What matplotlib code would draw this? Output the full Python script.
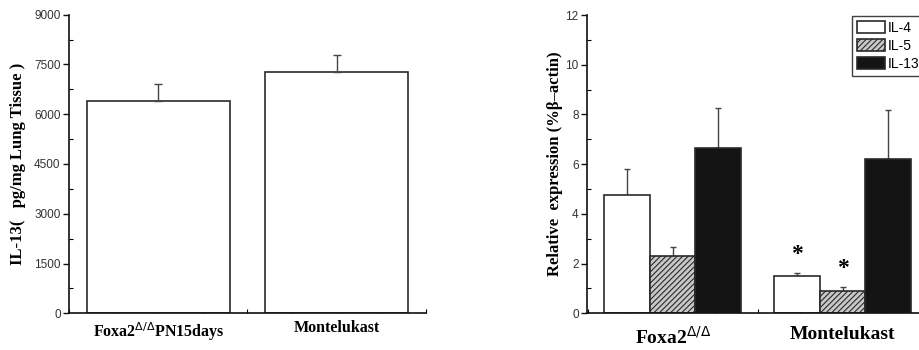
import numpy as np
from matplotlib import pyplot as plt
from matplotlib.ticker import MultipleLocator

# left panel: IL-13 protein
groups_left = ['Foxa2$^{\\Delta/\\Delta}$PN15days', 'Montelukast']
il13_protein = [6400, 7280]
il13_protein_err = [500, 520]

# right panel: relative mRNA expression
groups_right = ['Foxa2$^{\\Delta/\\Delta}$', 'Montelukast']
series_names = ['IL-4', 'IL-5', 'IL-13']
expr_il4 = [4.76, 1.50]
expr_il5 = [2.29, 0.90]
expr_il13 = [6.65, 6.22]
err_il4 = [1.03, 0.13]
err_il5 = [0.39, 0.17]
err_il13 = [1.60, 1.96]
significant = [[False, True], [False, True], [False, False]]

serif = ['Liberation Serif', 'DejaVu Serif']
sans = ['Liberation Sans', 'DejaVu Sans']
edge = '#2a2a2a'

plt.rcParams['font.family'] = sans
plt.rcParams['hatch.color'] = '#3a3a3a'
plt.rcParams['hatch.linewidth'] = 0.8


def style_axis(ax):
    for s in ['top', 'right']:
        ax.spines[s].set_visible(False)
    for s in ['left', 'bottom']:
        ax.spines[s].set_linewidth(1.2)
        ax.spines[s].set_color('#111111')
    ax.tick_params(axis='y', which='major', direction='out', length=4, width=1, labelsize=8.5,
                   colors='#111111', labelcolor='#333333', pad=2)
    ax.tick_params(axis='y', which='minor', direction='in', length=3, width=0.8)
    ax.tick_params(axis='x', which='both', direction='in', length=3, width=0.8)


fig = plt.figure(figsize=(9.2, 3.5), dpi=100)

# ---- left ----
ax1 = fig.add_axes([69 / 920, 36.7 / 350, 357 / 920, 298.6 / 350])
x1 = np.arange(len(groups_left)) + 1
ax1.bar(x1, il13_protein, width=0.8, color='white', edgecolor=edge, linewidth=1.2, zorder=2)
ax1.errorbar(x1, il13_protein, yerr=[np.zeros(len(x1)), il13_protein_err], fmt='none',
             ecolor='#444444', elinewidth=1, capsize=3, capthick=1, zorder=3)
ax1.set_xlim(0.5, 2.5)
ax1.set_ylim(0, 9000)
ax1.yaxis.set_major_locator(MultipleLocator(1500))
ax1.yaxis.set_minor_locator(MultipleLocator(750))
ax1.xaxis.set_minor_locator(MultipleLocator(0.25))
ax1.set_xticks(x1)
ax1.set_xticklabels(groups_left, fontfamily=serif, fontweight='bold', fontsize=11.5)
ax1.tick_params(axis='x', which='major', length=0, pad=5)
ax1.set_ylabel('IL-13(   pg/mg Lung Tissue )', fontfamily=serif, fontweight='bold', fontsize=12,
               labelpad=6)
style_axis(ax1)

# ---- right ----
ax2 = fig.add_axes([587 / 920, 36.7 / 350, 340.7 / 920, 298.3 / 350])
x2 = np.arange(len(groups_right))
w = 0.268
vals = [expr_il4, expr_il5, expr_il13]
errs = [err_il4, err_il5, err_il13]
faces = ['white', '#c8c8c8', '#141414']
hatches = [None, '//////', None]
for i in range(3):
    pos = x2 + (i - 1) * w
    ax2.bar(pos, vals[i], width=w, color=faces[i], edgecolor=edge, linewidth=1.2,
            hatch=hatches[i], label=series_names[i], zorder=2)
    ax2.errorbar(pos, vals[i], yerr=[np.zeros(len(pos)), errs[i]], fmt='none',
                 ecolor='#444444', elinewidth=1, capsize=2.5, capthick=1, zorder=1)
    for j in range(len(pos)):
        if significant[i][j]:
            ax2.text(pos[j], vals[i][j] + errs[i][j] + 0.3, '*', ha='center', va='bottom',
                     fontfamily=serif, fontweight='bold', fontsize=17)

ax2.set_xlim(-0.504, 1.5)
ax2.set_ylim(0, 12)
ax2.yaxis.set_major_locator(MultipleLocator(2))
ax2.yaxis.set_minor_locator(MultipleLocator(1))
ax2.xaxis.set_minor_locator(MultipleLocator(0.25))
ax2.set_xticks(x2)
ax2.set_xticklabels(groups_right, fontfamily=serif, fontweight='bold', fontsize=14)
ax2.tick_params(axis='x', which='major', length=0, pad=9)
ax2.set_ylabel('Relative  expression (%\u03b2\u2013actin)', fontfamily=serif, fontweight='bold',
               fontsize=12, labelpad=2)
style_axis(ax2)

leg = fig.legend(loc='upper left', bbox_to_anchor=(852 / 920, 1 - 15.7 / 350), borderaxespad=0,
                 fontsize=10, frameon=True, fancybox=False, edgecolor='#111111',
                 handlelength=2.0, handleheight=0.9, handletextpad=0.25, borderpad=0.35,
                 labelspacing=0.3)
leg.get_frame().set_linewidth(1.0)

fig.savefig('out.png', dpi=100)
